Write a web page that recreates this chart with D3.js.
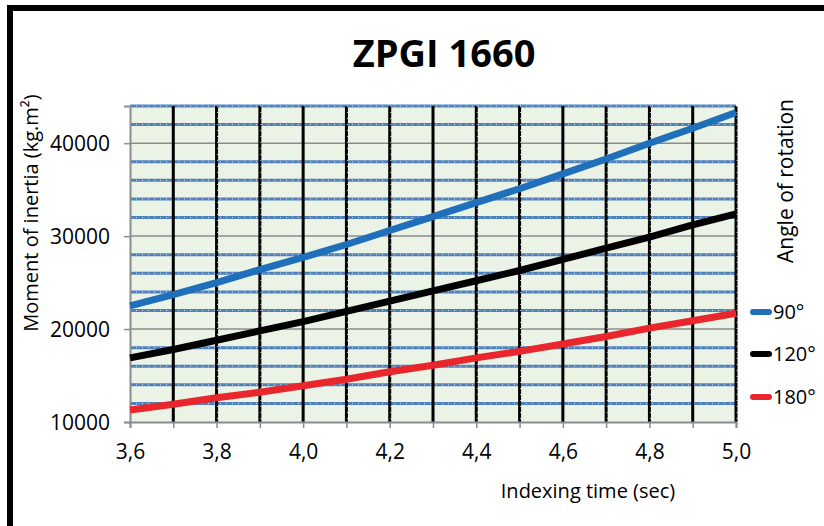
<!DOCTYPE html>
<html>
<head>
<meta charset="utf-8">
<script src="https://cdn.jsdelivr.net/npm/d3@7"></script>
<style>
  body { margin: 0; background: #fff; }
  text { font-family: "Open Sans", sans-serif; fill: #000; }
</style>
</head>
<body>
<svg id="chart" width="824" height="526"></svg>
<script>
// indexing time (sec), one point every 0.1
var times = [3.6, 3.7, 3.8, 3.9, 4.0, 4.1, 4.2, 4.3, 4.4, 4.5, 4.6, 4.7, 4.8, 4.9, 5.0];
// moment of inertia, kg.m²
var inertia90  = [22500, 23700, 25000, 26400, 27700, 29100, 30600, 32100, 33600, 35100, 36700, 38300, 40000, 41600, 43300];
var inertia120 = [16900, 17800, 18800, 19800, 20800, 21900, 23000, 24100, 25200, 26300, 27500, 28700, 29900, 31200, 32400];
var inertia180 = [11300, 11900, 12600, 13200, 13900, 14600, 15400, 16100, 16900, 17600, 18400, 19200, 20100, 20900, 21700];
var seriesNames = ['90°', '120°', '180°'];
var seriesColors = ['#1f6fba', '#000000', '#e8262b'];
var xTicks = [3.6, 3.7, 3.8, 3.9, 4.0, 4.1, 4.2, 4.3, 4.4, 4.5, 4.6, 4.7, 4.8, 4.9, 5.0];
var yTicks = [10000, 20000, 30000, 40000];
var yMinorTicks = [12000, 14000, 16000, 18000, 22000, 24000, 26000, 28000, 32000, 34000, 36000, 38000, 42000, 44000];

var svg = d3.select('#chart');
var margin = {top: 106, right: 88, bottom: 104, left: 130},
    width = 824 - margin.left - margin.right,
    height = 526 - margin.top - margin.bottom;

// outer frame (only top and left edges fall inside the picture)
svg.append('rect')
  .attr('x', 10).attr('y', 8)
  .attr('width', 830).attr('height', 540)
  .attr('fill', 'none')
  .attr('stroke', '#000')
  .attr('stroke-width', 6);

svg.append('text')
  .attr('x', 444).attr('y', 67)
  .attr('text-anchor', 'middle')
  .style('font-size', '38px')
  .style('font-weight', 'bold')
  .text('ZPGI 1660');

var x = d3.scaleLinear().domain([3.6, 5.0]).range([0, width]);
var y = d3.scaleLinear().domain([10000, 44000]).range([height, 0]);

var g = svg.append('g')
  .attr('transform', 'translate(' + margin.left + ',' + margin.top + ')');

g.append('rect')
  .attr('width', width).attr('height', height)
  .attr('fill', '#ebf2e6');

// minor horizontal grid: blue with white dots
var hg = g.append('g');
hg.selectAll('.hminor').data(yMinorTicks).enter().append('line')
  .attr('x1', 0).attr('x2', width)
  .attr('y1', function(d) { return y(d); }).attr('y2', function(d) { return y(d); })
  .attr('stroke', '#4f81bd').attr('stroke-width', 3);
hg.selectAll('.hdot').data(yMinorTicks).enter().append('line')
  .attr('x1', 0).attr('x2', width)
  .attr('y1', function(d) { return y(d); }).attr('y2', function(d) { return y(d); })
  .attr('stroke', '#fff').attr('stroke-width', 1)
  .attr('stroke-dasharray', '1,5').attr('opacity', 0.8);

// major horizontal grid
hg.selectAll('.hmajor').data(yTicks.slice(1)).enter().append('line')
  .attr('x1', 0).attr('x2', width)
  .attr('y1', function(d) { return y(d); }).attr('y2', function(d) { return y(d); })
  .attr('stroke', '#8c8c8c').attr('stroke-width', 1.5);

// vertical grid: black
var vg = g.append('g');
vg.selectAll('.vline').data(xTicks.slice(1)).enter().append('line')
  .attr('x1', function(d) { return x(d); }).attr('x2', function(d) { return x(d); })
  .attr('y1', 0).attr('y2', height)
  .attr('stroke', '#000').attr('stroke-width', 3);
vg.selectAll('.vdot').data(xTicks.slice(1).filter(function(d, i) { return i % 3 !== 0; })).enter().append('line')
  .attr('x1', function(d) { return x(d) + 1; }).attr('x2', function(d) { return x(d) + 1; })
  .attr('y1', 0).attr('y2', height)
  .attr('stroke', '#fff').attr('stroke-width', 1)
  .attr('stroke-dasharray', '1,5').attr('opacity', 0.8);

// axes
var xAxis = d3.axisBottom(x)
  .tickValues(xTicks)
  .tickSize(6)
  .tickPadding(16)
  .tickFormat(function(d, i) { return i % 2 === 0 ? d3.format('.1f')(d).replace('.', ',') : ''; });
var yAxis = d3.axisLeft(y)
  .tickValues(yTicks)
  .tickSize(6)
  .tickPadding(14)
  .tickFormat(d3.format('d'));

var xg = g.append('g').attr('transform', 'translate(0,' + height + ')').call(xAxis);
var yg = g.append('g').call(yAxis);
[xg, yg].forEach(function(a) {
  a.select('.domain').attr('stroke', '#8c8c8c').attr('stroke-width', 2);
  a.selectAll('.tick line').attr('stroke', '#8c8c8c').attr('stroke-width', 1.5);
  a.selectAll('.tick text').style('font-size', '21px').style('font-family', '"Open Sans", sans-serif').attr('fill', '#000');
});
yg.selectAll('.tick text').attr('dy', '0.36em');

// series
var series = [inertia90, inertia120, inertia180];
var line = d3.line()
  .x(function(d, i) { return x(times[i]); })
  .y(function(d) { return y(d); });

g.selectAll('.series').data(series).enter().append('path')
  .attr('d', line)
  .attr('fill', 'none')
  .attr('stroke', function(d, i) { return seriesColors[i]; })
  .attr('stroke-width', 7);

// legend
var legend = svg.append('g');
var legY = [312, 354, 397];
seriesNames.forEach(function(name, i) {
  legend.append('line')
    .attr('x1', 753).attr('x2', 769)
    .attr('y1', legY[i]).attr('y2', legY[i])
    .attr('stroke', seriesColors[i])
    .attr('stroke-width', 6)
    .attr('stroke-linecap', 'round');
  legend.append('text')
    .attr('x', 773).attr('y', legY[i])
    .attr('dy', '0.36em')
    .style('font-size', '20px')
    .text(name);
});

// axis titles
svg.append('text')
  .attr('transform', 'translate(38,213) rotate(-90)')
  .attr('text-anchor', 'middle')
  .style('font-size', '20px')
  .text('Moment of inertia (kg.m²)');

svg.append('text')
  .attr('transform', 'translate(793,181) rotate(-90)')
  .attr('text-anchor', 'middle')
  .style('font-size', '21px')
  .text('Angle of rotation');

svg.append('text')
  .attr('x', 588).attr('y', 498)
  .attr('text-anchor', 'middle')
  .style('font-size', '20px')
  .text('Indexing time (sec)');
</script>
</body>
</html>
